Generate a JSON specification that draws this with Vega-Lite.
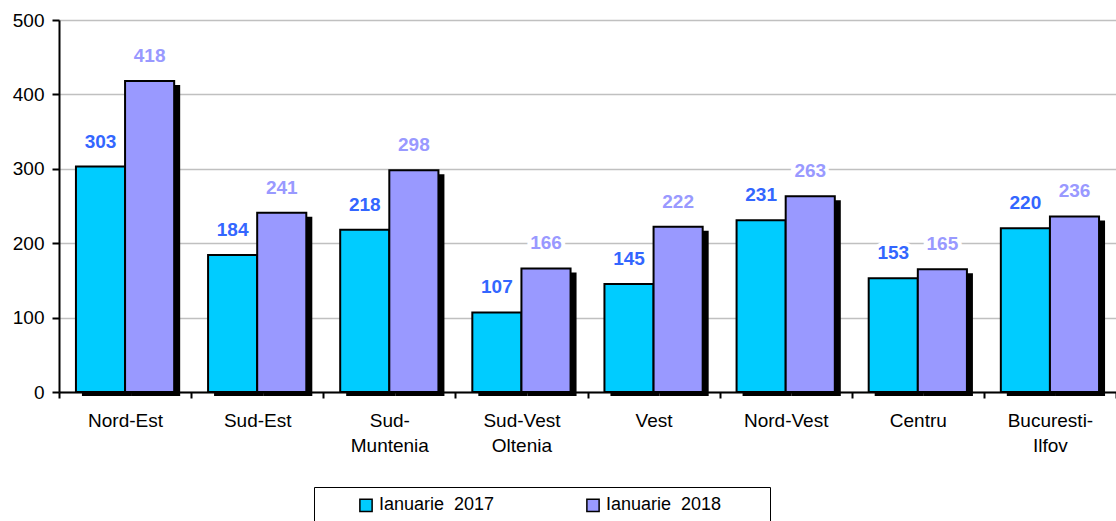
{
  "$schema": "https://vega.github.io/schema/vega-lite/v6.json",
  "autosize": {"type": "none"},
  "width": 1057,
  "height": 372,
  "padding": {"left": 59, "top": 20, "right": 0, "bottom": 129},
  "background": "white",
  "config": {
    "font": "Liberation Sans",
    "view": {"stroke": null}
  },
  "data": {
    "values": [
      {"region": "Nord-Est", "series": "Ianuarie  2017", "value": 303},
      {"region": "Nord-Est", "series": "Ianuarie  2018", "value": 418},
      {"region": "Sud-Est", "series": "Ianuarie  2017", "value": 184},
      {"region": "Sud-Est", "series": "Ianuarie  2018", "value": 241},
      {"region": "Sud-Muntenia", "series": "Ianuarie  2017", "value": 218},
      {"region": "Sud-Muntenia", "series": "Ianuarie  2018", "value": 298},
      {"region": "Sud-Vest Oltenia", "series": "Ianuarie  2017", "value": 107},
      {"region": "Sud-Vest Oltenia", "series": "Ianuarie  2018", "value": 166},
      {"region": "Vest", "series": "Ianuarie  2017", "value": 145},
      {"region": "Vest", "series": "Ianuarie  2018", "value": 222},
      {"region": "Nord-Vest", "series": "Ianuarie  2017", "value": 231},
      {"region": "Nord-Vest", "series": "Ianuarie  2018", "value": 263},
      {"region": "Centru", "series": "Ianuarie  2017", "value": 153},
      {"region": "Centru", "series": "Ianuarie  2018", "value": 165},
      {"region": "Bucuresti-Ilfov", "series": "Ianuarie  2017", "value": 220},
      {"region": "Bucuresti-Ilfov", "series": "Ianuarie  2018", "value": 236}
    ]
  },
  "encoding": {
    "x": {
      "field": "region",
      "type": "nominal",
      "sort": null,
      "scale": {"paddingInner": 0, "paddingOuter": 0},
      "axis": {
        "title": null,
        "labelAngle": 0,
        "labelFontSize": 19,
        "labelColor": "black",
        "labelPadding": 13,
        "labelLineHeight": 25,
        "labelBaseline": "top",
        "labelExpr": "datum.label == 'Sud-Muntenia' ? ['Sud-', 'Muntenia'] : datum.label == 'Sud-Vest Oltenia' ? ['Sud-Vest', 'Oltenia'] : datum.label == 'Bucuresti-Ilfov' ? ['Bucuresti-', 'Ilfov'] : datum.label",
        "tickBand": "extent",
        "tickColor": "black",
        "tickWidth": 2,
        "tickSize": 6,
        "domainColor": "black",
        "domainWidth": 2,
        "grid": false
      }
    },
    "y": {
      "field": "value",
      "type": "quantitative",
      "scale": {"domain": [0, 500]},
      "axis": {
        "title": null,
        "values": [0, 100, 200, 300, 400, 500],
        "labelFontSize": 19,
        "labelColor": "black",
        "labelPadding": 8,
        "tickColor": "black",
        "tickWidth": 2,
        "tickSize": 7,
        "domainColor": "black",
        "domainWidth": 2,
        "grid": true,
        "gridColor": "#C0C0C0",
        "gridWidth": 1.5
      }
    }
  },
  "layer": [
    {
      "mark": {"type": "bar", "color": "black", "yOffset": 4, "y2Offset": -4},
      "encoding": {
        "xOffset": {
          "field": "series",
          "type": "nominal",
          "scale": {"paddingInner": 0, "paddingOuter": 0.345, "align": 0.677}
        }
      }
    },
    {
      "layer": [
        {
          "mark": {"type": "bar", "stroke": "black", "strokeWidth": 2},
          "encoding": {
            "color": {
              "field": "series",
              "type": "nominal",
              "scale": {"domain": ["Ianuarie  2017", "Ianuarie  2018"], "range": ["#00CCFF", "#9999FF"]},
              "legend": {
                "title": " ",
                "titleOrient": "right",
                "titlePadding": 40,
                "orient": "none",
                "legendX": 255,
                "legendY": 467,
                "direction": "horizontal",
                "symbolType": "square",
                "symbolSize": 150,
                "symbolStrokeColor": "black",
                "symbolStrokeWidth": 1.5,
                "labelFontSize": 18,
                "labelColor": "black",
                "labelOffset": 4,
                "labelExpr": "replace(datum.label, '  ', ' \u00a0')",
                "columnPadding": 55,
                "padding": 9,
                "strokeColor": "black",
                "symbolOffset": 34
              }
            }
          }
        },
        {
          "mark": {"type": "text", "dy": -25, "fontSize": 19, "fontWeight": "bold", "baseline": "middle", "fill": "white", "stroke": "white", "strokeWidth": 8},
          "encoding": {"text": {"field": "value", "type": "quantitative"}}
        },
        {
          "transform": [{"filter": "datum.series == 'Ianuarie  2017'"}],
          "mark": {"type": "text", "dy": -25, "fontSize": 19, "fontWeight": "bold", "baseline": "middle", "color": "#3366FF"},
          "encoding": {"text": {"field": "value", "type": "quantitative"}}
        },
        {
          "transform": [{"filter": "datum.series == 'Ianuarie  2018'"}],
          "mark": {"type": "text", "dy": -25, "fontSize": 19, "fontWeight": "bold", "baseline": "middle", "color": "#9999FF"},
          "encoding": {"text": {"field": "value", "type": "quantitative"}}
        }
      ],
      "encoding": {
        "xOffset": {
          "field": "series",
          "type": "nominal",
          "scale": {"paddingInner": 0, "paddingOuter": 0.345}
        }
      }
    }
  ],
  "resolve": {"scale": {"xOffset": "independent"}}
}
